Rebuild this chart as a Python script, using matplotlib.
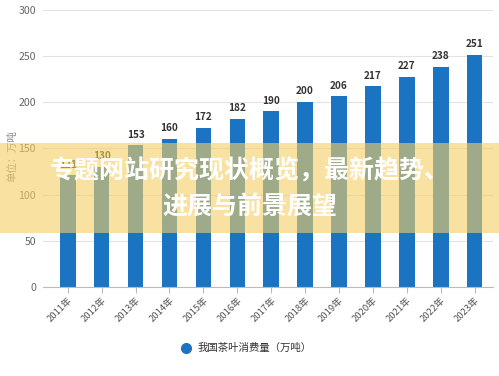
import matplotlib
matplotlib.use("Agg")
import matplotlib.pyplot as plt
from matplotlib.patches import Rectangle

plt.rcParams['font.family'] = ['Noto Sans CJK SC', 'DejaVu Sans']

years = ['2011年', '2012年', '2013年', '2014年', '2015年', '2016年', '2017年',
         '2018年', '2019年', '2020年', '2021年', '2022年', '2023年']
values = [121, 130, 153, 160, 172, 182, 190, 200, 206, 217, 227, 238, 251]
yticks = [0, 50, 100, 150, 200, 250, 300]
series_name = '我国茶叶消费量（万吨）'
y_label = '单位：万吨'
title_lines = ['专题网站研究现状概览，最新趋势、', '进展与前景展望']

W, H = 499, 376
fig = plt.figure(figsize=(W / 100, H / 100), dpi=100)
ax = fig.add_axes([43 / W, 1 - 287 / H, (493 - 43) / W, (287 - 9.5) / H])

x = list(range(len(years)))
bar_color = '#1b74c2'
ax.bar(x, values, width=0.46, color=bar_color, zorder=2)
for xi, v in zip(x, values):
    ax.text(xi, v + 6, str(v), ha='center', va='bottom', fontsize=7.2,
            fontweight='bold', color='#333333', zorder=3)

ax.set_ylim(0, 300)
ax.set_xlim(-0.73, 12.54)
ax.set_yticks(yticks)
ax.set_yticklabels([str(t) for t in yticks], fontsize=7.6, color='#666666')
ax.set_xticks(x)
ax.set_xticklabels(years, rotation=45, ha='right', rotation_mode='anchor',
                   fontsize=6.8, color='#555555')
ax.grid(axis='y', color='#e3e3e3', linewidth=0.8, zorder=0)
for s in ['top', 'right', 'left']:
    ax.spines[s].set_visible(False)
ax.spines['bottom'].set_color('#bbbbbb')
ax.tick_params(axis='y', length=0, pad=5)
ax.tick_params(axis='x', length=4, color='#bbbbbb', pad=2)

fig.text(12 / W, 1 - 156 / H, y_label, rotation=90, ha='center', va='center',
         fontsize=7.5, color='#888888')

# legend
fig.lines.append(plt.Line2D([186 / W], [1 - 347.5 / H], marker='o', markersize=7,
                            color=bar_color, transform=fig.transFigure, linestyle='none'))
fig.text(198 / W, 1 - 347.5 / H, series_name, ha='left', va='center',
         fontsize=7.5, color='#333333')

# banner
fig.patches.append(Rectangle((0, 1 - 233 / H), 1, 90 / H, transform=fig.transFigure,
                             facecolor='#f6cf62', alpha=0.6, edgecolor='none', zorder=5))
fig.text(0.5, 1 - 171 / H, title_lines[0], ha='center', va='center', fontsize=18,
         fontweight='bold', color='white', zorder=6)
fig.text(0.5, 1 - 208 / H, title_lines[1], ha='center', va='center', fontsize=18,
         fontweight='bold', color='white', zorder=6)

fig.savefig('out.png', dpi=100)
